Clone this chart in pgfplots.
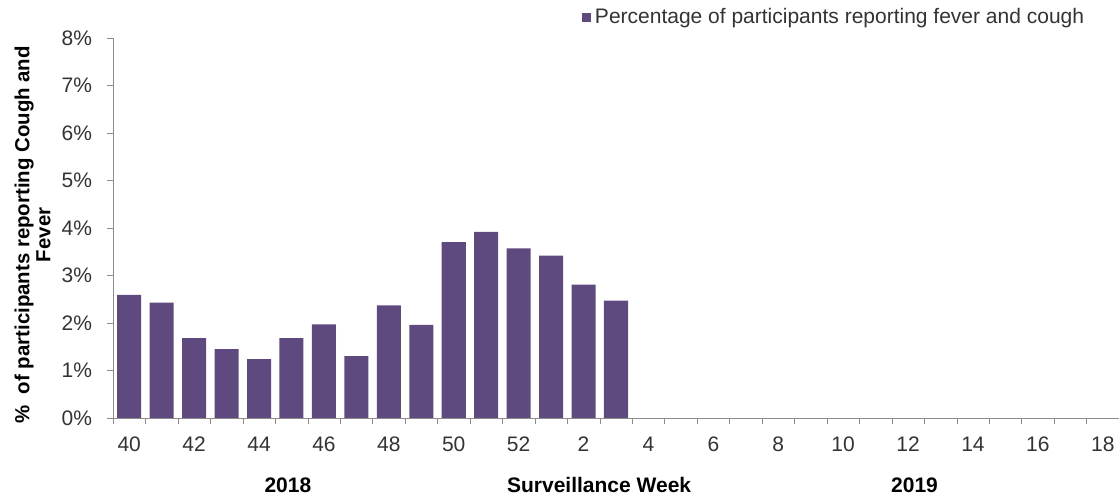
\documentclass[border=0pt]{standalone}
\usepackage{fontspec}
\setmainfont{Liberation Sans}
\usepackage{pgfplots}
\pgfplotsset{compat=1.18}
\definecolor{barpurple}{HTML}{5E4A7E}
\definecolor{axisgray}{HTML}{8C8C8C}
\definecolor{txt}{HTML}{333333}
\begin{document}
\begin{tikzpicture}
\begin{axis}[
    name=ax,
    scale only axis,
    width=503pt, height=190pt,
    ybar, bar width=0.74,
    xmin=-0.5, xmax=30.5,
    ymin=0, ymax=8,
    axis lines*=left,
    axis line style={draw=axisgray},
    tick style={draw=axisgray},
    tick align=outside,
    xtick={0,2,...,30},
    xticklabels={40,42,44,46,48,50,52,2,4,6,8,10,12,14,16,18},
    major x tick style={draw=none},
    minor xtick={-0.5,0.5,...,30.5},
    minor tick length=3pt,
    ytick={0,1,...,8},
    major tick length=3pt,
    yticklabel={\pgfmathprintnumber{\tick}\%},
    /pgf/number format/assume math mode=true,
    ticklabel style={font=\fontsize{10.5}{12}\selectfont, text=txt},
    xticklabel style={yshift=-3pt},
    yticklabel style={xshift=-4pt},
    ylabel={\%\ \ of participants reporting Cough and\\Fever},
    ylabel style={font=\bfseries\fontsize{10.2}{10.5}\selectfont, align=center,
        at={(axis description cs:-0.08,0.482)}, anchor=center},
    clip=false,
    legend style={at={(axis description cs:0.466,1.053)}, anchor=west,
        draw=none, fill=none, inner sep=0pt,
        font=\fontsize{10.5}{12}\selectfont, text=txt},
    legend image code/.code={\fill[barpurple] (0pt,-2.2pt) rectangle (4.4pt,2.2pt);},
]
\addplot[fill=barpurple, draw=none] coordinates {
    (0,2.59) (1,2.43) (2,1.68) (3,1.45) (4,1.24) (5,1.68) (6,1.97) (7,1.30)
    (8,2.37) (9,1.96) (10,3.70) (11,3.92) (12,3.57) (13,3.42) (14,2.81) (15,2.47)
};
\addlegendentry{Percentage of participants reporting fever and cough}
\node[font=\bfseries\fontsize{10.5}{12}\selectfont] at (axis cs:4.89,-1.41) {2018};
\node[font=\bfseries\fontsize{10.5}{12}\selectfont] at (axis cs:14.48,-1.41) {Surveillance Week};
\node[font=\bfseries\fontsize{10.5}{12}\selectfont] at (axis cs:24.2,-1.41) {2019};
\end{axis}
\pgfresetboundingbox
\path ([shift={(-56.5pt,-38.5pt)}]ax.south west) rectangle ([shift={(0pt,19pt)}]ax.north east);
\end{tikzpicture}
\end{document}
